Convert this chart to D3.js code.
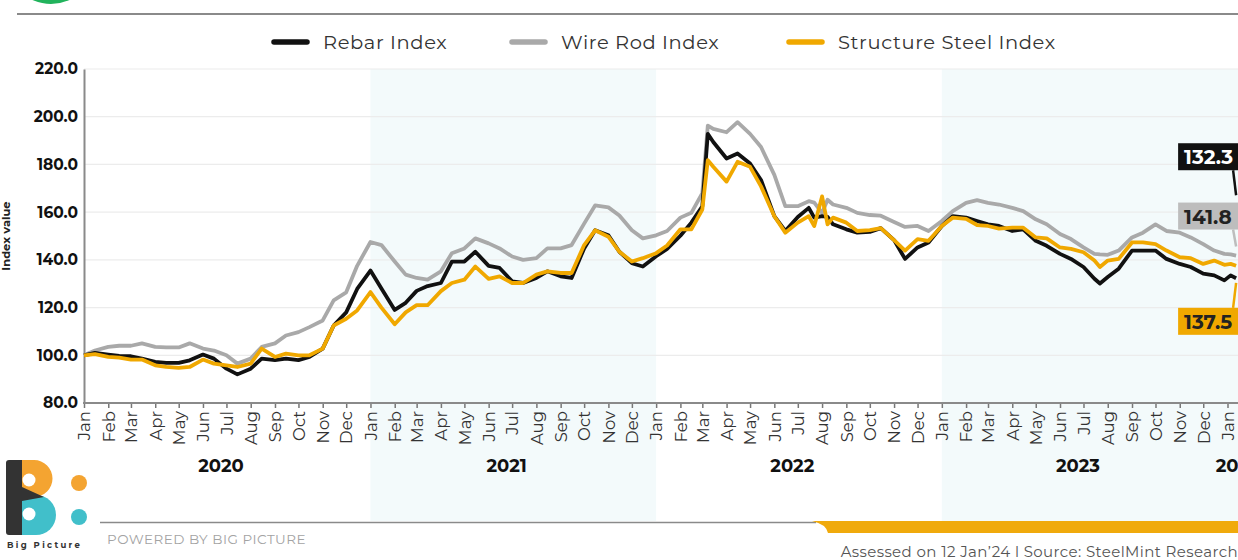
<!DOCTYPE html>
<html>
<head>
<meta charset="utf-8">
<script src="https://cdn.jsdelivr.net/npm/d3@7"></script>
<style>
  body { margin: 0; background: #fff; }
  svg { display: block; font-family: Montserrat, "DejaVu Sans", sans-serif; }
</style>
</head>
<body>
<svg id="chart" width="1238" height="560"></svg>
<script>
// weekly-ish index readings, base Jan 2020 = 100
const dates = [
  "2020-01-01","2020-01-15","2020-02-01","2020-02-15","2020-03-01","2020-03-15","2020-04-01","2020-04-15",
  "2020-05-01","2020-05-15","2020-06-01","2020-06-15","2020-07-01","2020-07-15","2020-08-01","2020-08-15",
  "2020-09-01","2020-09-15","2020-10-01","2020-10-15","2020-11-01","2020-11-15","2020-12-01","2020-12-15",
  "2021-01-01","2021-01-15","2021-02-01","2021-02-15","2021-03-01","2021-03-15","2021-04-01","2021-04-15",
  "2021-05-01","2021-05-15","2021-06-01","2021-06-15","2021-07-01","2021-07-15","2021-08-01","2021-08-15",
  "2021-09-01","2021-09-15","2021-10-01","2021-10-15","2021-11-01","2021-11-15","2021-12-01","2021-12-15",
  "2022-01-01","2022-01-15","2022-02-01","2022-02-15","2022-03-01","2022-03-08","2022-03-15","2022-04-01",
  "2022-04-15","2022-05-01","2022-05-15","2022-06-01","2022-06-15","2022-07-01","2022-07-15","2022-07-22",
  "2022-08-01","2022-08-08","2022-08-15","2022-09-01","2022-09-15","2022-10-01","2022-10-15","2022-11-01",
  "2022-11-15","2022-12-01","2022-12-15",
  "2023-01-01","2023-01-15","2023-02-01","2023-02-15","2023-03-01","2023-03-15","2023-04-01","2023-04-15",
  "2023-05-01","2023-05-15","2023-06-01","2023-06-15","2023-07-01","2023-07-15","2023-07-22","2023-08-01",
  "2023-08-15","2023-09-01","2023-09-15","2023-10-01","2023-10-15","2023-11-01","2023-11-15","2023-12-01",
  "2023-12-15","2023-12-28",
  "2024-01-05","2024-01-12"
]

const rebar = [
  100, 101, 100.3, 99.7, 99.6, 98.6, 97.2, 96.8, 96.8, 97.9, 100.3, 98.6,
  94.4, 92, 94.4, 98.6, 98, 98.6, 98, 99.3, 102.8, 112.5, 118, 127.8,
  135.5, 128, 119, 122, 127, 129, 130.3, 139.3, 139.3, 143.4, 137.5, 136.6,
  131, 130.3, 132.4, 135.2, 133.1, 132.4, 144.8, 152.4, 150.3, 143.4, 138.6, 137.2,
  141.5, 144.6, 150.1, 155.6, 162.5, 192.8, 189.4, 182.5, 184.6, 180.4, 173.5, 158.3,
  152.1, 158, 161.8, 157.7, 158.3, 158, 154.9, 152.8, 151.4, 151.7, 153.3, 148.3,
  140.4, 145.2, 147.3,
  154.2, 158.3, 157.7, 156.3, 154.9, 154.2, 152.1, 152.8, 148, 145.9, 142.5, 140.4,
  137, 132.1, 130.1, 132.8, 136.3, 143.9, 143.9, 143.9, 140.4, 138.3, 137, 134.2,
  133.5, 131.4,
  133.5, 132.3
]

const wireRod = [
  100, 102, 103.5, 104, 104, 105, 103.5, 103.3, 103.3, 105, 102.8, 102,
  100, 96.5, 98.6, 103.5, 105, 108.3, 109.7, 111.8, 114.6, 123, 126.4, 137.5,
  147.5, 146.2, 139.3, 133.8, 132.4, 131.7, 135.2, 142.8, 144.8, 149, 146.9, 144.8,
  141.4, 140, 140.7, 144.8, 144.8, 146.2, 155.2, 162.8, 162, 158.6, 152.4, 149,
  150.3, 152.1, 157.7, 159.7, 168, 196.3, 194.9, 193.5, 197.7, 192.8, 187.3, 175.6,
  162.5, 162.5, 164.6, 164, 159.7, 165.2, 163.2, 161.8, 159.7, 158.8, 158.5, 155.9,
  153.8, 154.2, 152.1,
  156.3, 160.4, 163.9, 165, 163.9, 163.2, 161.8, 160.4, 157, 154.9, 150.8, 148.7,
  145.2, 142.5, 142.3, 142.1, 143.9, 149.4, 151.4, 154.9, 152.1, 151.4, 149.4, 146.6,
  143.9, 142.5,
  142.3, 141.8
]

const structure = [
  100, 100.5, 99.3, 99, 98.2, 98.2, 95.8, 95.1, 94.7, 95.1, 98.2, 96.5,
  95.8, 95.1, 96.5, 102.8, 99.3, 100.7, 100, 100, 102.8, 112.5, 115.3, 118.8,
  126.5, 120, 113, 118, 121, 121, 126.9, 130.3, 131.7, 137.2, 132, 133.1,
  130.3, 130.3, 133.8, 135.2, 134.5, 134.5, 146.2, 152.4, 149.7, 143.4, 139.3, 140.7,
  142.8, 146, 152.8, 152.8, 161.1, 181.8, 179, 172.8, 181.1, 179, 170.8, 158.3,
  151.4, 155.6, 158.3, 154.2, 166.6, 154.9, 157.7, 155.6, 152.1, 152.5, 153.3, 148.3,
  143.9, 148.7, 148,
  154.2, 157.7, 157.2, 154.6, 154.2, 153.1, 153.5, 153.5, 149.4, 149, 145.2, 144.6,
  143.2, 139.7, 137, 139.7, 140.4, 147.3, 147.3, 146.6, 143.9, 141.1, 140.7, 138.3,
  139.7, 137.9,
  138.3, 137.5
]

const seriesNames = ["Rebar Index", "Wire Rod Index", "Structure Steel Index"]
const seriesColors = ["#111111", "#a9a9a9", "#f0a800"]
const yTicks = [80, 100, 120, 140, 160, 180, 200, 220]
const years = [2020, 2021, 2022, 2023, 2024]
const shadedYears = [2021, 2023]

const W = 1238
const svg = d3.select("#chart")
const parse = d3.timeParse("%Y-%m-%d")
const dd = dates.map(parse)

const x = d3.scaleTime()
  .domain([new Date(2020, 0, 1), new Date(2024, 0, 1)])
  .range([84, 1227.5])
const y = d3.scaleLinear().domain([80, 220]).range([403, 69])

// top rule + green badge
svg.append("circle").attr("cx", 51).attr("cy", -41).attr("r", 45).attr("fill", "#21b35c")
svg.append("line").attr("x1", 17).attr("x2", W).attr("y1", 14).attr("y2", 14)
  .attr("stroke", "#8a8a8a").attr("stroke-width", 2)

// alternate year bands
svg.selectAll("rect.band").data(shadedYears).enter().append("rect")
  .attr("class", "band")
  .attr("x", d => x(new Date(d, 0, 1)))
  .attr("width", d => d === 2023 ? W - x(new Date(d, 0, 1)) : x(new Date(d + 1, 0, 1)) - x(new Date(d, 0, 1)))
  .attr("y", y(220))
  .attr("height", 521 - y(220))
  .attr("fill", "#f3fafb")

// gridlines
svg.selectAll("line.grid").data(yTicks.slice(1)).enter().append("line")
  .attr("class", "grid")
  .attr("x1", 84).attr("x2", W)
  .attr("y1", d => y(d)).attr("y2", d => y(d))
  .attr("stroke", "#ececec").attr("stroke-width", 1.2)

// y axis
const yAxis = svg.append("g").attr("transform", "translate(84,0)")
  .call(d3.axisLeft(y).tickValues(yTicks).tickFormat(d3.format(".1f")).tickSize(0).tickSizeOuter(0).tickPadding(6))
yAxis.select(".domain").attr("stroke", "#8a8a8a").attr("stroke-width", 2)
yAxis.selectAll("text").attr("font-size", 15.5).attr("font-weight", "bold").attr("fill", "#111")
  .attr("font-family", "Montserrat, 'DejaVu Sans', sans-serif")

svg.append("text")
  .attr("transform", `translate(10,${(y(220) + y(80)) / 2}) rotate(-90)`)
  .attr("text-anchor", "middle")
  .attr("font-size", 11.5).attr("font-weight", "bold").attr("fill", "#222")
  .text("Index value")

// x axis
const xAxis = svg.append("g").attr("transform", `translate(0,${y(80)})`)
  .call(d3.axisBottom(x).ticks(d3.timeMonth.every(1)).tickFormat(d3.timeFormat("%b")).tickSize(5).tickSizeOuter(0))
xAxis.select(".domain").remove()
xAxis.selectAll(".tick line").attr("stroke", "#777").attr("stroke-width", 1.5)
xAxis.selectAll("text")
  .attr("font-size", 16.5).attr("fill", "#333")
  .attr("font-family", "Montserrat, 'DejaVu Sans', sans-serif")
  .attr("text-anchor", "end")
  .attr("transform", "rotate(-90)")
  .attr("x", -8).attr("y", 0).attr("dy", "0.35em")
svg.append("line").attr("x1", 83).attr("x2", W).attr("y1", y(80)).attr("y2", y(80))
  .attr("stroke", "#8a8a8a").attr("stroke-width", 2)

svg.selectAll("text.year").data(years).enter().append("text")
  .attr("class", "year")
  .attr("x", d => d === 2024 ? x(new Date(2024, 0, 10)) + 4 : x(new Date(d, 5, 24)))
  .attr("y", 472)
  .attr("text-anchor", "middle")
  .attr("font-size", 18).attr("font-weight", "bold").attr("fill", "#111")
  .text(d => d)

// lines
const series = [rebar, wireRod, structure].map((vals, i) => ({
  name: seriesNames[i], color: seriesColors[i],
  points: vals.map((v, j) => ({ date: dd[j], v: v }))
}))
const line = d3.line().x(d => x(d.date)).y(d => y(d.v))
const drawOrder = [1, 0, 2]
svg.selectAll("path.series").data(drawOrder.map(i => series[i])).enter().append("path")
  .attr("class", "series")
  .attr("d", d => line(d.points))
  .attr("fill", "none")
  .attr("stroke", d => d.color)
  .attr("stroke-width", 3.8)
  .attr("stroke-linejoin", "round")

// end callouts (box top offset from line end, tail end offset)
const calloutTop = [-135, -53, 42]
const calloutTail = [-83, -9, 17]
const calloutFill = ["#111111", "#bdbdbd", "#f0a800"]
const calloutText = ["#ffffff", "#222222", "#222222"]
const ends = series.map((s, i) => {
  const p = s.points[s.points.length - 1]
  return { i: i, x: x(p.date), y: y(p.v), v: p.v }
})
const co = svg.selectAll("g.callout").data(ends).enter().append("g").attr("class", "callout")
co.append("path")
  .attr("d", d => {
    const boxEdge = calloutTop[d.i] < 0 ? d.y + calloutTop[d.i] + 27 : d.y + calloutTop[d.i]
    return `M${d.x - 3},${boxEdge} L${d.x},${d.y + calloutTail[d.i]}`
  })
  .attr("stroke", d => calloutFill[d.i]).attr("stroke-width", 2.5).attr("fill", "none")
co.append("rect")
  .attr("x", d => d.x - 58).attr("y", d => d.y + calloutTop[d.i])
  .attr("width", 70).attr("height", 27)
  .attr("fill", d => calloutFill[d.i])
co.append("text")
  .attr("x", d => d.x - 52).attr("y", d => d.y + calloutTop[d.i] + 21)
  .attr("font-size", 20).attr("font-weight", "bold")
  .attr("fill", d => calloutText[d.i])
  .text(d => d3.format(".1f")(d.v))

// legend
const legendX = [272, 510, 787]
const lg = svg.selectAll("g.legend").data(series).enter().append("g")
  .attr("class", "legend")
  .attr("transform", (d, i) => `translate(${legendX[i]},42)`)
lg.append("line").attr("x1", 2).attr("x2", 35).attr("y1", 0).attr("y2", 0)
  .attr("stroke", d => d.color).attr("stroke-width", 5.5).attr("stroke-linecap", "round")
lg.append("text").attr("x", 51).attr("y", 0).attr("dy", "0.36em")
  .attr("font-size", 19.5).attr("letter-spacing", 0.6).attr("fill", "#333")
  .text(d => d.name)

// footer
svg.append("line").attr("x1", 100).attr("x2", 816).attr("y1", 522.5).attr("y2", 522.5)
  .attr("stroke", "#8a8a8a").attr("stroke-width", 1.5)
svg.append("path")
  .attr("d", `M812,521 H${W} V533 H828 Q826,524 812,521 Z`)
  .attr("fill", "#f0aa0c")
svg.append("text").attr("x", 107).attr("y", 544)
  .attr("font-size", 13.5).attr("fill", "#a3a3a3").attr("letter-spacing", 0.5)
  .text("POWERED BY BIG PICTURE")
svg.append("text").attr("x", W).attr("y", 557).attr("text-anchor", "end")
  .attr("font-size", 15).attr("letter-spacing", 0.4).attr("fill", "#555")
  .text("Assessed on 12 Jan\u201924 l  Source: SteelMint Research")

// logo
const logo = svg.append("g")
logo.append("path").attr("d", "M22,495 H36 A20,20 0 0 1 36,535 H22 Z").attr("fill", "#41bfca")
logo.append("path").attr("d", "M22,460 H34 A18.5,18.5 0 0 1 34,497 H22 Z").attr("fill", "#f4a431")
logo.append("path").attr("d", "M9,460 H22 V487 L44,497 L22,501 V535 H9 Q6,535 6,532 V463 Q6,460 9,460 Z").attr("fill", "#333")
logo.append("circle").attr("cx", 29).attr("cy", 480).attr("r", 6.5).attr("fill", "#fff")
logo.append("circle").attr("cx", 29).attr("cy", 514).attr("r", 6.5).attr("fill", "#fff")
logo.append("circle").attr("cx", 79).attr("cy", 483).attr("r", 8).attr("fill", "#f4a431")
logo.append("circle").attr("cx", 79).attr("cy", 517).attr("r", 8).attr("fill", "#41bfca")
logo.append("text").attr("x", 7).attr("y", 548)
  .attr("font-size", 8.5).attr("font-weight", "bold").attr("letter-spacing", 2.3).attr("fill", "#333")
  .text("Big Picture")
</script>
</body>
</html>
